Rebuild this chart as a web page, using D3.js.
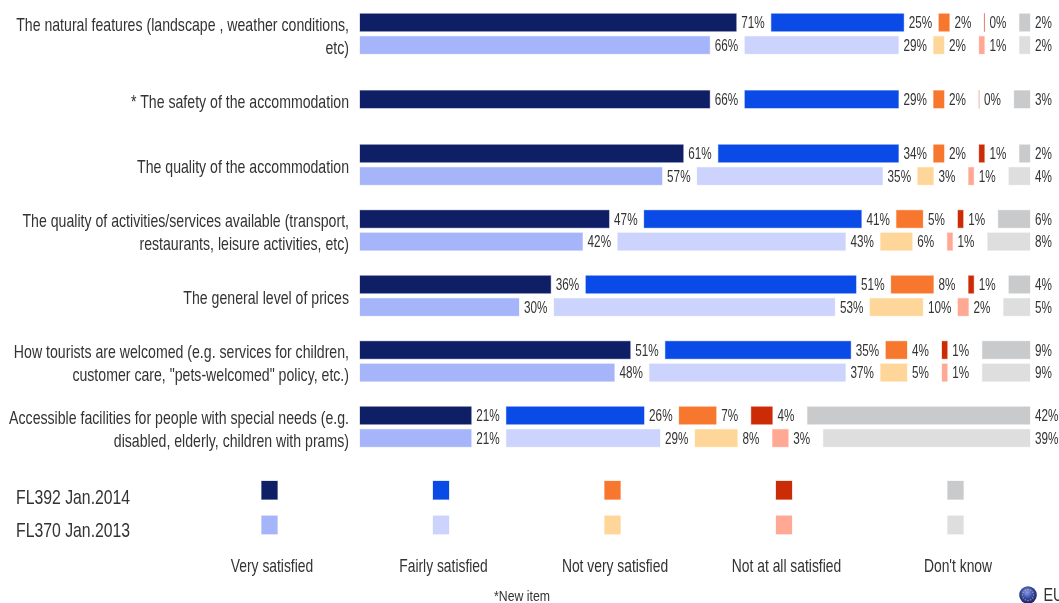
<!DOCTYPE html>
<html><head><meta charset="utf-8">
<script src="https://cdn.jsdelivr.net/npm/d3@7"></script>
<style>html,body{margin:0;padding:0;background:#fff;overflow:hidden}svg{display:block;filter:blur(0.4px)}text{font-family:"Liberation Sans",Arial,sans-serif;fill:#333}</style>
</head><body><svg id="c" width="1059" height="603"></svg>
<script>
const categories = [
  ["The natural features (landscape , weather conditions,","etc)"],
  ["* The safety of the accommodation"],
  ["The quality of the accommodation"],
  ["The quality of activities/services available (transport,","restaurants, leisure activities, etc)"],
  ["The general level of prices"],
  ["How tourists are welcomed (e.g. services for children,","customer care, \"pets-welcomed\" policy, etc.)"],
  ["Accessible facilities for people with special needs (e.g.","disabled, elderly, children with prams)"]
];
const answers = ["Very satisfied","Fairly satisfied","Not very satisfied","Not at all satisfied","Don't know"];
const waves = ["FL392 Jan.2014","FL370 Jan.2013"];
const values2014 = [
  [71,25,2,0,2],[66,29,2,0,3],[61,34,2,1,2],[47,41,5,1,6],[36,51,8,1,4],[51,35,4,1,9],[21,26,7,4,42]
];
const values2013 = [
  [66,29,2,1,2],null,[57,35,3,1,4],[42,43,6,1,8],[30,53,10,2,5],[48,37,5,1,9],[21,29,8,3,39]
];
const colors2014 = ["#0F1F66","#0A4AE6","#F7772F","#CC2C05","#C8CACC"];
const colors2013 = ["#A6B5FA","#CCD3FC","#FFD699","#FFA894","#DEDEDE"];
const footnote = "*New item";
const brand = "EU";

const svg = d3.select("#c");
function label(g,x,y,str,size,anchor,sx){
  return g.append("text").attr("transform",`translate(${x},${y}) scale(${sx},1)`)
    .attr("text-anchor",anchor||"start").attr("font-size",size).text(str);
}
const x = d3.scaleLinear().domain([0,100]).range([0,530]);
const gap = 35, x0 = 360;
const step = 65.5;
const y = d3.scaleBand().domain(d3.range(categories.length))
  .range([33.8-step/2, 33.8-step/2+step*categories.length]).paddingInner(0).paddingOuter(0);
const barH = 17.6, barGap = 5;

const rows = svg.selectAll("g.row").data(categories).join("g").attr("class","row");
rows.each(function(cat,i){
  const g = d3.select(this);
  const c = y(i)+y.bandwidth()/2;
  cat.forEach((line,k)=>{
    const mid = c+2 + (k-(cat.length-1)/2)*23;
    label(g,349,mid+6.3,line,18,"end",0.785);
  });
  const series = [[values2014[i],colors2014],[values2013[i],colors2013]].filter(s=>s[0]);
  const inner = d3.scaleBand().domain(d3.range(series.length))
    .range([c-(series.length*barH+(series.length-1)*barGap)/2, c+(series.length*barH+(series.length-1)*barGap)/2])
    .paddingInner(series.length>1?barGap/(barH+barGap):0);
  series.forEach((s,si)=>{
    let cum = 0;
    s[0].forEach((v,j)=>{
      const left = x0 + x(cum) + gap*j;
      const w = x(v);
      const t = inner(si);
      g.append("rect").attr("x",left).attr("y",t).attr("width",Math.max(w,0.01)).attr("height",inner.bandwidth())
        .attr("fill",s[1][j]).attr("stroke",v===0?colors2014[3]:s[1][j]).attr("stroke-width",1)
        .attr("stroke-opacity",v===0?(i===0?0.6:0.35):0.3);
      label(g,left+w+5,t+inner.bandwidth()/2+5.8,d3.format("d")(v)+"%",17,"start",0.69);
      cum += v;
    });
  });
});

const lx = d3.scalePoint().domain(answers).range([269.5,955.5]);
answers.forEach((a,j)=>{
  const cx = lx(a);
  [colors2014[j],colors2013[j]].forEach((col,k)=>{
    svg.append("rect").attr("x",cx-8).attr("y",481+k*34.7).attr("width",16).attr("height",18.5)
      .attr("fill",col).attr("stroke",col).attr("stroke-opacity",.25);
  });
  label(svg,cx+2.5,572,a,18,"middle",0.77);
});
waves.forEach((w,k)=>label(svg,16,504+k*33,w,20,"start",0.79));
label(svg,522,601,footnote,15,"middle",0.82);

const defs = svg.append("defs");
const rg = defs.append("radialGradient").attr("id","globe").attr("cx","45%").attr("cy","35%").attr("r","70%");
rg.append("stop").attr("offset","0%").attr("stop-color","#8d9be8");
rg.append("stop").attr("offset","55%").attr("stop-color","#2d3f9e");
rg.append("stop").attr("offset","100%").attr("stop-color","#141f5e");
svg.append("circle").attr("cx",1028).attr("cy",595).attr("r",8.8).attr("fill","url(#globe)");
d3.range(12).forEach(k=>{
  const a = k/12*2*Math.PI;
  svg.append("circle").attr("cx",1028+5.6*Math.cos(a)).attr("cy",595+5.6*Math.sin(a)).attr("r",.6).attr("fill","#e8d24a");
});
label(svg,1043.5,601,brand,18,"start",0.8);
</script></body></html>
